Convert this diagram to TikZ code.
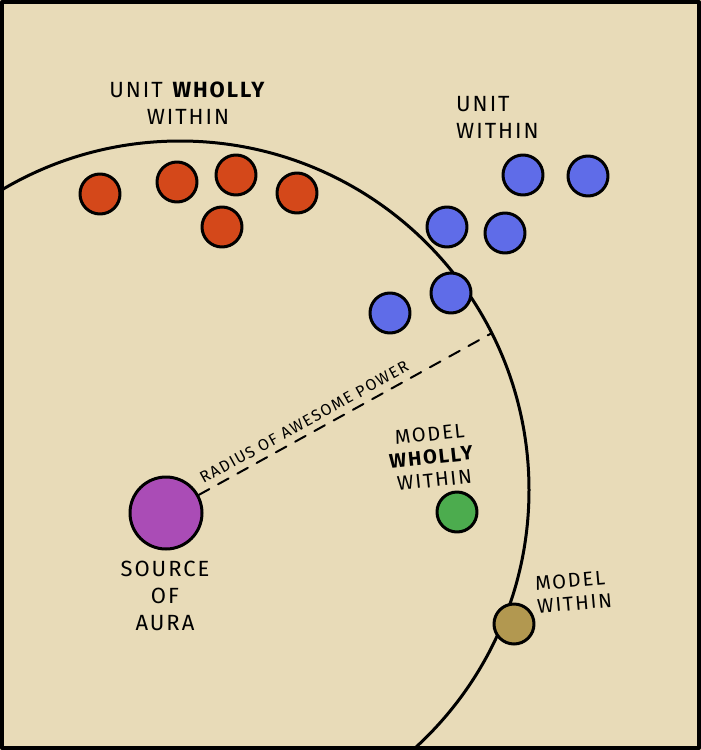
\documentclass[tikz,border=0pt]{standalone}
\usepackage{fontspec}
\setmainfont{Fira Sans}
\newfontfamily\handfont[LetterSpace=9]{Fira Sans}
\definecolor{parchment}{RGB}{232,219,184}
\definecolor{unitred}{RGB}{212,72,26}
\definecolor{unitblue}{RGB}{95,108,232}
\definecolor{modelgreen}{RGB}{76,172,78}
\definecolor{modelbrown}{RGB}{178,152,80}
\definecolor{aurapurple}{RGB}{170,76,182}
\begin{document}
\begin{tikzpicture}[x=1pt, y=-1pt, line join=round, line cap=round,
  font=\handfont\fontsize{22}{27}\selectfont,
  model/.style={circle, draw=black, line width=3pt, minimum size=40pt, inner sep=0pt},
  lbl/.style={inner sep=0pt, align=center}]
\useasboundingbox (0,0) rectangle (701,750);
\fill[parchment] (0,0) rectangle (701,750);
\begin{scope}
\clip (0,0) rectangle (701,750);
\path
  (180,490) coordinate (C)
  (492,333) coordinate (E)
  ;
\draw[line width=3pt] (C) circle (349);
\end{scope}
\node[model, fill=aurapurple, minimum size=72pt] (S) at (166,513) {};
\draw[line width=2pt, dash pattern=on 12pt off 10pt] (S) -- (E)
  node[pos=0.38, above=6pt, sloped, inner sep=0pt, font=\handfont\fontsize{16}{18}\selectfont]
  {RADIUS OF AWESOME POWER};
\foreach \n/\x/\y in {1/100/194, 2/177/182, 3/236/175, 4/297/193, 5/222/227}
  {\node[model, fill=unitred] (r\n) at (\x,\y) {};}
\foreach \n/\x/\y in {1/523/175, 2/588/176, 3/447/227, 4/505/233, 5/451/293, 6/390/313}
  {\node[model, fill=unitblue] (b\n) at (\x,\y) {};}
\node[model, fill=modelgreen] (G) at (457,512) {};
\node[model, fill=modelbrown] (B) at (514,624) {};
\node[lbl] (unitwholly) at (188,103) {UNIT \textbf{WHOLLY}\\WITHIN};
\node[lbl, align=left, anchor=west] (unitwithin) at (456,117) {UNIT\\WITHIN};
\node[lbl, rotate=6, font=\handfont\fontsize{20}{23}\selectfont] (modelwholly) at (432,457) {MODEL\\\textbf{WHOLLY}\\WITHIN};
\node[lbl] (source) at (165,596) {SOURCE\\OF\\AURA};
\node[lbl, align=left, anchor=west, rotate=5, font=\handfont\fontsize{20}{23}\selectfont] (modelwithin) at (536,595) {MODEL\\WITHIN};
\draw[line width=4pt] (2,2) rectangle (699,748);
\end{tikzpicture}
\end{document}
